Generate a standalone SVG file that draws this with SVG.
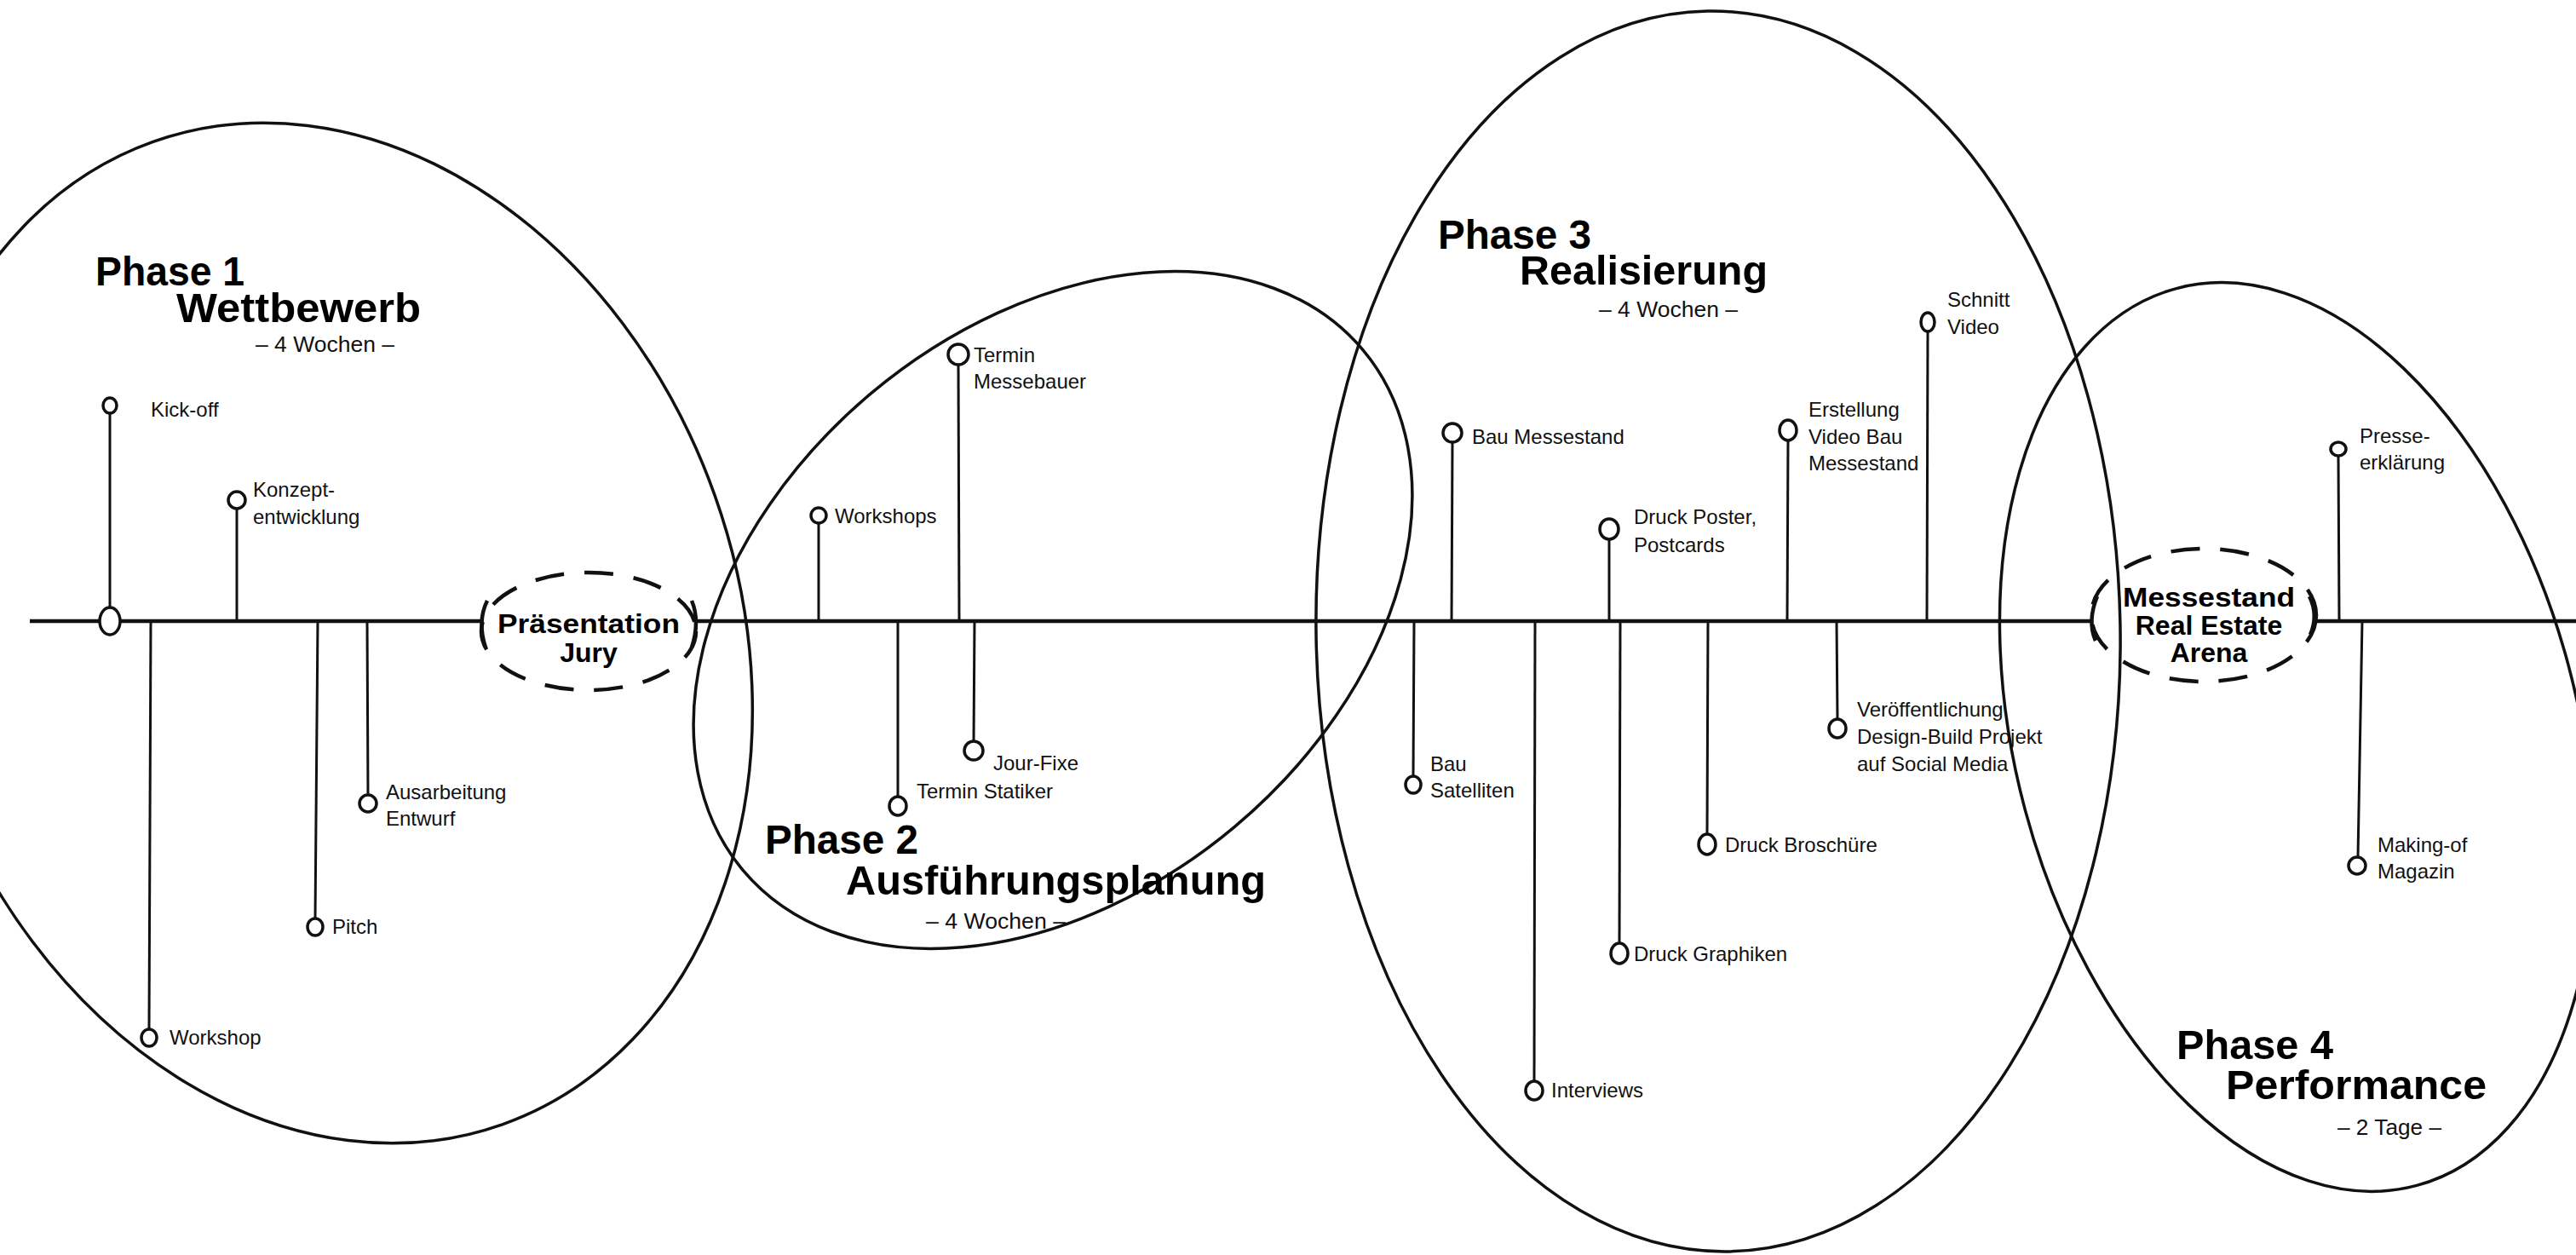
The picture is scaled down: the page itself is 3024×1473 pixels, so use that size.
<svg xmlns="http://www.w3.org/2000/svg" width="3024" height="1473" viewBox="0 0 3024 1473">
<style>
.ph{fill:none;stroke:#111;stroke-width:3.5}
.tl{stroke:#111;stroke-width:4.5;fill:none}
.st{stroke:#111;stroke-width:3;fill:none}
.dot{fill:#fff;stroke:#111;stroke-width:3.5}
.dash{fill:none;stroke:#111;stroke-width:4.5;stroke-dasharray:34 24}
.br{fill:none;stroke:#111;stroke-width:4.5}
text{font-family:"Liberation Sans",Arial,sans-serif;fill:#111}
.lbl{font-size:24px}
.ttl{font-size:48px;font-weight:bold;fill:#000}
.dur{font-size:25px}
.hub{font-size:32px;font-weight:bold;text-anchor:middle;fill:#000}
</style>
<rect width="3024" height="1473" fill="#fff"/>

<g id="phase1">
<ellipse class="ph" cx="385" cy="743" rx="482" ry="612" transform="rotate(-19.6 385 743)"/>
<text class="ttl" x="112" y="335" textLength="175" lengthAdjust="spacingAndGlyphs">Phase 1</text>
<text class="ttl" x="207" y="378" textLength="287" lengthAdjust="spacingAndGlyphs">Wettbewerb</text>
<text class="dur" x="300" y="413" textLength="163" lengthAdjust="spacingAndGlyphs">– 4 Wochen –</text>
</g>
<g id="phase2">
<ellipse class="ph" cx="1236" cy="716" rx="475" ry="332" transform="rotate(-40 1236 716)"/>
<text class="ttl" x="898" y="1002" textLength="180" lengthAdjust="spacingAndGlyphs">Phase 2</text>
<text class="ttl" x="993" y="1050" textLength="493" lengthAdjust="spacingAndGlyphs">Ausführungsplanung</text>
<text class="dur" x="1087" y="1090" textLength="164" lengthAdjust="spacingAndGlyphs">– 4 Wochen –</text>
</g>
<g id="phase3">
<ellipse class="ph" cx="2017" cy="741" rx="472" ry="728" transform="rotate(-1 2017 741)"/>
<text class="ttl" x="1688" y="292" textLength="180" lengthAdjust="spacingAndGlyphs">Phase 3</text>
<text class="ttl" x="1784" y="334" textLength="291" lengthAdjust="spacingAndGlyphs">Realisierung</text>
<text class="dur" x="1877" y="372" textLength="163" lengthAdjust="spacingAndGlyphs">– 4 Wochen –</text>
</g>
<g id="phase4">
<ellipse class="ph" cx="2696" cy="865" rx="330" ry="545" transform="rotate(-15 2696 865)"/>
<text class="ttl" x="2555" y="1243" textLength="184" lengthAdjust="spacingAndGlyphs">Phase 4</text>
<text class="ttl" x="2613" y="1290" textLength="306" lengthAdjust="spacingAndGlyphs">Performance</text>
<text class="dur" x="2744" y="1332" textLength="122" lengthAdjust="spacingAndGlyphs">– 2 Tage –</text>
</g>

<g id="connectors">
<line class="tl" x1="35" y1="729" x2="565" y2="729"/>
<line class="tl" x1="818" y1="729" x2="2455" y2="729"/>
<line class="tl" x1="2718" y1="729" x2="3024" y2="729"/>
<line class="st" x1="129" y1="485" x2="129" y2="713"/>
<line class="st" x1="278" y1="597" x2="278" y2="729"/>
<line class="st" x1="177" y1="729" x2="175" y2="1208"/>
<line class="st" x1="373" y1="729" x2="370" y2="1078"/>
<line class="st" x1="431" y1="729" x2="432" y2="933"/>
<line class="st" x1="961" y1="614" x2="961" y2="729"/>
<line class="st" x1="1125" y1="428" x2="1126" y2="729"/>
<line class="st" x1="1054" y1="729" x2="1054" y2="936"/>
<line class="st" x1="1144" y1="729" x2="1143" y2="871"/>
<line class="st" x1="1660" y1="729" x2="1659" y2="911"/>
<line class="st" x1="1705" y1="519" x2="1704" y2="729"/>
<line class="st" x1="1802" y1="729" x2="1801" y2="1269"/>
<line class="st" x1="1889" y1="632" x2="1889" y2="729"/>
<line class="st" x1="1902" y1="729" x2="1901" y2="1108"/>
<line class="st" x1="2005" y1="729" x2="2004" y2="980"/>
<line class="st" x1="2099" y1="517" x2="2098" y2="729"/>
<line class="st" x1="2156" y1="729" x2="2157" y2="844"/>
<line class="st" x1="2263" y1="389" x2="2262" y2="729"/>
<line class="st" x1="2745" y1="536" x2="2746" y2="729"/>
<line class="st" x1="2773" y1="729" x2="2768" y2="1006"/>
</g>

<g id="praesentation-jury">
<ellipse class="dash" cx="691" cy="741" rx="126" ry="69"/>
<path class="br" d="M572 705 Q560 729 570 760"/>
<path class="br" d="M812 705 Q822 729 812 760"/>
<text class="hub" x="691" y="743" textLength="214" lengthAdjust="spacingAndGlyphs">Präsentation</text>
<text class="hub" x="691" y="777">Jury</text>
</g>
<g id="messestand">
<ellipse class="dash" cx="2587" cy="722" rx="132" ry="78"/>
<path class="br" d="M2462 700 Q2450 729 2460 752"/>
<path class="br" d="M2711 700 Q2722 722 2712 745"/>
<text class="hub" x="2593" y="712" textLength="202" lengthAdjust="spacingAndGlyphs">Messestand</text>
<text class="hub" x="2593" y="745">Real Estate</text>
<text class="hub" x="2593" y="777">Arena</text>
</g>

<g id="kick-off"><ellipse class="dot" cx="129" cy="476" rx="8" ry="9"/><ellipse class="dot" cx="129" cy="729" rx="12" ry="16"/><text class="lbl" x="177" y="489">Kick-off</text></g>
<g id="konzept"><ellipse class="dot" cx="278" cy="587" rx="10" ry="10"/><text class="lbl" x="297" y="583">Konzept-</text><text class="lbl" x="297" y="615">entwicklung</text></g>
<g id="workshop"><ellipse class="dot" cx="175" cy="1218" rx="9" ry="10"/><text class="lbl" x="199" y="1226">Workshop</text></g>
<g id="pitch"><ellipse class="dot" cx="370" cy="1088" rx="9" ry="10"/><text class="lbl" x="390" y="1096">Pitch</text></g>
<g id="ausarbeitung"><ellipse class="dot" cx="432" cy="943" rx="10" ry="10"/><text class="lbl" x="453" y="938">Ausarbeitung</text><text class="lbl" x="453" y="969">Entwurf</text></g>

<g id="workshops"><ellipse class="dot" cx="961" cy="605" rx="9" ry="9"/><text class="lbl" x="980" y="614">Workshops</text></g>
<g id="termin-messebauer"><ellipse class="dot" cx="1125" cy="416" rx="12" ry="12"/><text class="lbl" x="1143" y="425">Termin</text><text class="lbl" x="1143" y="456">Messebauer</text></g>
<g id="termin-statiker"><ellipse class="dot" cx="1054" cy="946" rx="10" ry="11"/><text class="lbl" x="1076" y="937">Termin Statiker</text></g>
<g id="jour-fixe"><ellipse class="dot" cx="1143" cy="881" rx="11" ry="11"/><text class="lbl" x="1166" y="904">Jour-Fixe</text></g>

<g id="bau-satelliten"><ellipse class="dot" cx="1659" cy="921" rx="9" ry="10"/><text class="lbl" x="1679" y="905">Bau</text><text class="lbl" x="1679" y="936">Satelliten</text></g>
<g id="bau-messestand"><ellipse class="dot" cx="1705" cy="508" rx="11" ry="11"/><text class="lbl" x="1728" y="521">Bau Messestand</text></g>
<g id="interviews"><ellipse class="dot" cx="1801" cy="1280" rx="10" ry="11"/><text class="lbl" x="1821" y="1288">Interviews</text></g>
<g id="druck-poster"><ellipse class="dot" cx="1889" cy="621" rx="11" ry="12"/><text class="lbl" x="1918" y="615">Druck Poster,</text><text class="lbl" x="1918" y="648">Postcards</text></g>
<g id="druck-graphiken"><ellipse class="dot" cx="1901" cy="1119" rx="10" ry="12"/><text class="lbl" x="1918" y="1128">Druck Graphiken</text></g>
<g id="druck-broschuere"><ellipse class="dot" cx="2004" cy="991" rx="10" ry="12"/><text class="lbl" x="2025" y="1000">Druck Broschüre</text></g>
<g id="erstellung-video"><ellipse class="dot" cx="2099" cy="505" rx="10" ry="12"/><text class="lbl" x="2123" y="489">Erstellung</text><text class="lbl" x="2123" y="521">Video Bau</text><text class="lbl" x="2123" y="552">Messestand</text></g>
<g id="veroeffentlichung"><ellipse class="dot" cx="2157" cy="855" rx="10" ry="11"/><text class="lbl" x="2180" y="841">Veröffentlichung</text><text class="lbl" x="2180" y="873">Design-Build Projekt</text><text class="lbl" x="2180" y="905">auf Social Media</text></g>
<g id="schnitt-video"><ellipse class="dot" cx="2263" cy="378" rx="8" ry="11"/><text class="lbl" x="2286" y="360">Schnitt</text><text class="lbl" x="2286" y="392">Video</text></g>

<g id="presse"><ellipse class="dot" cx="2745" cy="527" rx="9" ry="8"/><text class="lbl" x="2770" y="520">Presse-</text><text class="lbl" x="2770" y="551">erklärung</text></g>
<g id="making-of"><ellipse class="dot" cx="2767" cy="1016" rx="10" ry="10"/><text class="lbl" x="2791" y="1000">Making-of</text><text class="lbl" x="2791" y="1031">Magazin</text></g>
</svg>
